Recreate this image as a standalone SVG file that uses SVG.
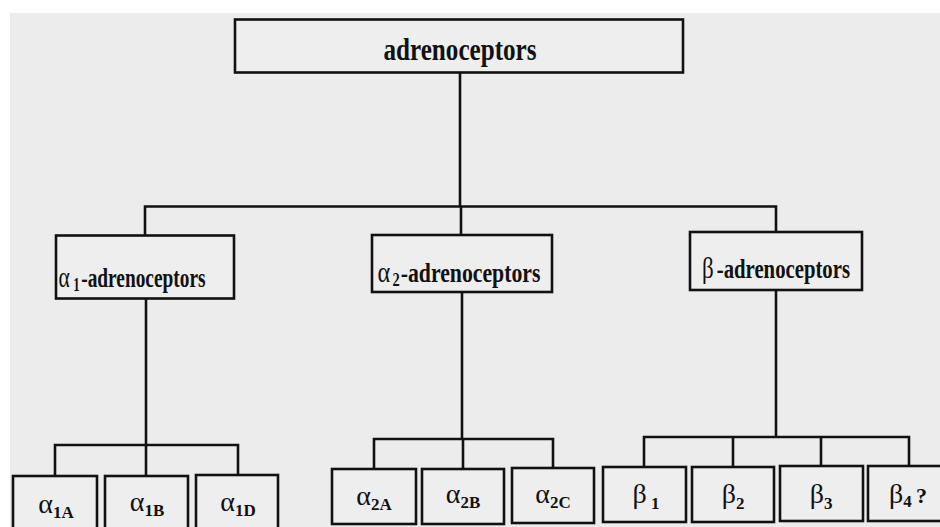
<svg xmlns="http://www.w3.org/2000/svg" width="940" height="527" viewBox="0 0 940 527">
<style>
.box{fill:#eeeeee;stroke:#111;stroke-width:2.6px}
.ln{fill:none;stroke:#111;stroke-width:2.6px}
text{font-family:"Liberation Serif","Times New Roman",serif;fill:#111;font-weight:bold;text-anchor:middle}
.g{font-weight:normal}
.lb{font-size:28px}
.sb{font-size:17px}
.ga{font-weight:normal;font-size:30px}
</style>
<rect x="0" y="0" width="940" height="527" fill="#ffffff"/>
<rect x="10" y="13" width="930" height="514" fill="#ececec"/>
<g id="connectors">
<path class="ln" d="M460 73V206.5M145 236V206.5H776V232M461 206.5V235"/>
<path class="ln" d="M146 299V445M55 476V445H238V476M146 445V476"/>
<path class="ln" d="M462 292V439M374 469V439H553V469M463 439V469"/>
<path class="ln" d="M776 290V437M644 467V437H909V467M733 437V467M821 437V467"/>
</g>
<g id="root"><rect class="box" x="235" y="19.5" width="448" height="53"/>
<text x="460" y="60" font-size="31" textLength="153" lengthAdjust="spacingAndGlyphs">adrenoceptors</text></g>
<g id="alpha1"><rect class="box" x="56" y="235.5" width="178" height="63"/>
<text x="132" y="287" font-size="27" textLength="147" lengthAdjust="spacingAndGlyphs"><tspan class="ga">α</tspan><tspan font-size="18" dx="5" dy="4">1</tspan><tspan dx="2" dy="-4">-adrenoceptors</tspan></text></g>
<g id="alpha2"><rect class="box" x="372" y="235" width="180" height="57"/>
<text x="459" y="282" font-size="27" textLength="163" lengthAdjust="spacingAndGlyphs"><tspan class="ga">α</tspan><tspan font-size="18" dx="3" dy="4">2</tspan><tspan dx="1" dy="-4">-adrenoceptors</tspan></text></g>
<g id="beta"><rect class="box" x="690" y="232" width="172" height="58"/>
<text x="776" y="278" font-size="27" textLength="148" lengthAdjust="spacingAndGlyphs"><tspan class="ga">β</tspan><tspan dx="4">-adrenoceptors</tspan></text></g>
<g id="a1A"><rect class="box" x="13" y="476" width="84" height="60"/>
<text class="lb" x="56" y="513"><tspan class="g">α</tspan><tspan class="sb" dy="5">1A</tspan></text></g>
<g id="a1B"><rect class="box" x="105" y="476" width="83" height="60"/>
<text class="lb" x="147" y="511"><tspan class="g">α</tspan><tspan class="sb" dy="5">1B</tspan></text></g>
<g id="a1D"><rect class="box" x="196" y="475" width="82" height="60"/>
<text class="lb" x="238" y="511"><tspan class="g">α</tspan><tspan class="sb" dy="5">1D</tspan></text></g>
<g id="a2A"><rect class="box" x="332" y="469" width="84" height="55"/>
<text class="lb" x="374" y="505"><tspan class="g">α</tspan><tspan class="sb" dy="5">2A</tspan></text></g>
<g id="a2B"><rect class="box" x="422" y="469" width="82" height="55"/>
<text class="lb" x="463" y="503"><tspan class="g">α</tspan><tspan class="sb" dy="5">2B</tspan></text></g>
<g id="a2C"><rect class="box" x="512" y="468" width="82" height="55"/>
<text class="lb" x="553" y="503"><tspan class="g">α</tspan><tspan class="sb" dy="5">2C</tspan></text></g>
<g id="b1"><rect class="box" x="603" y="467" width="83" height="55"/>
<text x="646" y="503" font-size="28"><tspan class="g">β</tspan><tspan font-size="17" dy="6"> 1</tspan></text></g>
<g id="b2"><rect class="box" x="692" y="467" width="82" height="55"/>
<text x="733" y="503" font-size="28"><tspan class="g">β</tspan><tspan font-size="17" dy="6">2</tspan></text></g>
<g id="b3"><rect class="box" x="780" y="466" width="83" height="55"/>
<text x="821" y="503" font-size="28"><tspan class="g">β</tspan><tspan font-size="17" dy="6">3</tspan></text></g>
<g id="b4"><rect class="box" x="868" y="466" width="80" height="55"/>
<text x="908" y="503" font-size="28"><tspan class="g">β</tspan><tspan font-size="17" dy="4">4 </tspan><tspan dy="-4" font-size="22">?</tspan></text></g>
</svg>
